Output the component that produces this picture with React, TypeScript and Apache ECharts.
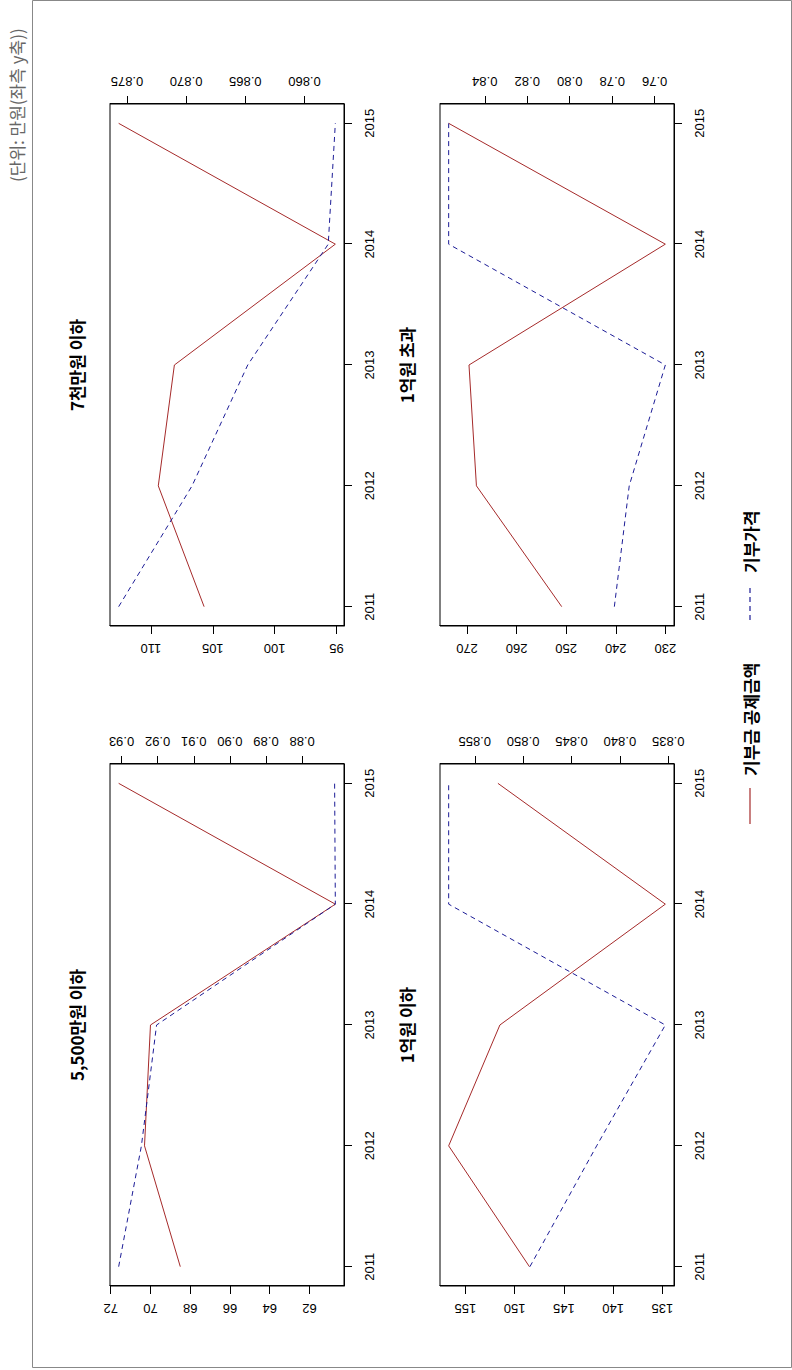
import React, { useEffect, useRef } from "react";
import * as echarts from "echarts";

// ---------- data ----------
const years = [2011, 2012, 2013, 2014, 2015];
const panelTitles = ["5,500만원 이하", "7천만원 이하", "1억원 이하", "1억원 초과"];
const seriesNames = ["기부금 공제금액", "기부가격"];
const unitNote = "(단위: 만원(좌측 y축))";

const deduction5500 = [68.5, 70.3, 70.0, 60.7, 71.6];
const price5500 = [0.9308, 0.9245, 0.9203, 0.8708, 0.871];
const deduction7000 = [105.7, 109.4, 108.1, 95.1, 112.6];
const price7000 = [0.8757, 0.8695, 0.8648, 0.858, 0.8574];
const deduction1e = [148.5, 156.7, 151.5, 134.7, 151.7];
const price1e = [0.8493, 0.8424, 0.8353, 0.8577, 0.8577];
const deductionOver = [250.9, 268.1, 269.6, 230.0, 273.7];
const priceOver = [0.779, 0.772, 0.755, 0.857, 0.857];

const leftTicks5500 = ["62", "64", "66", "68", "70", "72"];
const rightTicks5500 = ["0.88", "0.89", "0.90", "0.91", "0.92", "0.93"];
const leftTicks7000 = ["95", "100", "105", "110"];
const rightTicks7000 = ["0.860", "0.865", "0.870", "0.875"];
const leftTicks1e = ["135", "140", "145", "150", "155"];
const rightTicks1e = ["0.835", "0.840", "0.845", "0.850", "0.855"];
const leftTicksOver = ["230", "240", "250", "260", "270"];
const rightTicksOver = ["0.76", "0.78", "0.80", "0.82", "0.84"];

// ---------- layout (unrotated landscape canvas 1370 x 792) ----------
const W = 1370;
const H = 792;
const panels = [
  { title: panelTitles[0], red: deduction5500, blue: price5500, lt: leftTicks5500, rt: rightTicks5500, left: 84, top: 110 },
  { title: panelTitles[1], red: deduction7000, blue: price7000, lt: leftTicks7000, rt: rightTicks7000, left: 744, top: 110 },
  { title: panelTitles[2], red: deduction1e, blue: price1e, lt: leftTicks1e, rt: rightTicks1e, left: 84, top: 440 },
  { title: panelTitles[3], red: deductionOver, blue: priceOver, lt: leftTicksOver, rt: rightTicksOver, left: 744, top: 440 },
];
const PW = 522;
const PH = 234;
const RED = "#A52A2A";
const BLUE = "#1c1c96";
const NUM_FONT = "Liberation Sans, Arial, sans-serif";
const KR_FONT = "Noto Sans CJK KR, sans-serif";

function padRange(arr: number[]) {
  const lo = Math.min(...arr);
  const hi = Math.max(...arr);
  const d = hi - lo;
  return [lo - 0.04 * d, hi + 0.04 * d];
}
function decimalsOf(s: string) {
  const i = s.indexOf(".");
  return i < 0 ? 0 : s.length - i - 1;
}

function buildOption() {
  const grid: any[] = [];
  const xAxis: any[] = [];
  const yAxis: any[] = [];
  const series: any[] = [];
  const graphic: any[] = [];

  panels.forEach((p, i) => {
    grid.push({
      left: p.left,
      top: p.top,
      width: PW,
      height: PH,
      show: true,
      borderColor: "#000",
      borderWidth: 1,
      backgroundColor: "transparent",
    });
    xAxis.push({
      gridIndex: i,
      type: "value",
      min: 2011 - 0.16,
      max: 2015 + 0.16,
      position: "bottom",
      axisLine: { show: true, lineStyle: { color: "#000", width: 1 } },
      axisTick: { show: true, length: 8, customValues: years, lineStyle: { color: "#000" } },
      axisLabel: {
        customValues: years,
        margin: 19,
        color: "#000",
        fontSize: 13,
        fontFamily: NUM_FONT,
        formatter: (v: number) => String(Math.round(v)),
      },
      splitLine: { show: false },
    });
    const [rmin, rmax] = padRange(p.red);
    const [bmin, bmax] = padRange(p.blue);
    const ldec = decimalsOf(p.lt[0]);
    const rdec = decimalsOf(p.rt[0]);
    yAxis.push({
      gridIndex: i,
      type: "value",
      position: "left",
      min: rmin,
      max: rmax,
      axisLine: { show: true, lineStyle: { color: "#000", width: 1 } },
      axisTick: { show: true, length: 8, customValues: p.lt.map(Number), lineStyle: { color: "#000" } },
      axisLabel: {
        customValues: p.lt.map(Number),
        rotate: 90,
        margin: 16,
        color: "#000",
        fontSize: 13,
        fontFamily: NUM_FONT,
        formatter: (v: number) => v.toFixed(ldec),
      },
      splitLine: { show: false },
    });
    yAxis.push({
      gridIndex: i,
      type: "value",
      position: "right",
      min: bmin,
      max: bmax,
      axisLine: { show: true, lineStyle: { color: "#000", width: 1 } },
      axisTick: { show: true, length: 8, customValues: p.rt.map(Number), lineStyle: { color: "#000" } },
      axisLabel: {
        customValues: p.rt.map(Number),
        rotate: 90,
        margin: 16,
        color: "#000",
        fontSize: 13,
        fontFamily: NUM_FONT,
        formatter: (v: number) => v.toFixed(rdec),
      },
      splitLine: { show: false },
    });
    series.push({
      name: seriesNames[0],
      type: "line",
      xAxisIndex: i,
      yAxisIndex: 2 * i,
      data: years.map((y, k) => [y, p.red[k]]),
      showSymbol: false,
      symbol: "none",
      lineStyle: { color: RED, width: 1 },
      z: 2,
    });
    series.push({
      name: seriesNames[1],
      type: "line",
      xAxisIndex: i,
      yAxisIndex: 2 * i + 1,
      data: years.map((y, k) => [y, p.blue[k]]),
      showSymbol: false,
      symbol: "none",
      lineStyle: { color: BLUE, width: 1, type: [5, 4] },
      z: 3,
    });
    graphic.push({
      type: "text",
      x: p.left + PW / 2,
      y: p.top - 34,
      style: {
        text: p.title,
        fill: "#000",
        font: `bold 17px ${KR_FONT}`,
        textAlign: "center",
        textVerticalAlign: "middle",
      },
    });
  });

  // outer frame
  graphic.push({
    type: "rect",
    shape: { x: 2.5, y: 32.5, width: W - 3, height: H - 33 },
    style: { fill: "none", stroke: "#888", lineWidth: 1 },
    silent: true,
  });
  // unit note
  graphic.push({
    type: "text",
    x: 1188,
    y: 16,
    style: {
      text: unitNote,
      fill: "#666",
      font: `17px ${KR_FONT}`,
      textAlign: "left",
      textVerticalAlign: "middle",
    },
  });
  // legend
  const ly = 750;
  graphic.push({
    type: "line",
    shape: { x1: 546, y1: ly, x2: 582, y2: ly },
    style: { stroke: RED, lineWidth: 1.2 },
  });
  graphic.push({
    type: "text",
    x: 594,
    y: ly,
    style: { text: seriesNames[0], fill: "#000", font: `bold 17px ${KR_FONT}`, textVerticalAlign: "middle" },
  });
  graphic.push({
    type: "line",
    shape: { x1: 750, y1: ly, x2: 784, y2: ly },
    style: { stroke: BLUE, lineWidth: 1.2, lineDash: [5, 4] },
  });
  graphic.push({
    type: "text",
    x: 797,
    y: ly,
    style: { text: seriesNames[1], fill: "#000", font: `bold 17px ${KR_FONT}`, textVerticalAlign: "middle" },
  });

  return {
    animation: false,
    backgroundColor: "#fff",
    grid,
    xAxis,
    yAxis,
    series,
    graphic,
  };
}

export default function App() {
  const ref = useRef<HTMLDivElement>(null);
  useEffect(() => {
    const chart = echarts.init(ref.current!, null, { renderer: "svg", width: W, height: H });
    chart.setOption(buildOption() as any);
    return () => chart.dispose();
  }, []);
  return (
    <div
      style={{
        position: "absolute",
        left: 0,
        top: 0,
        width: H,
        height: W,
        overflow: "hidden",
        background: "#fff",
      }}
    >
      <div
        ref={ref}
        style={{
          position: "absolute",
          left: 0,
          top: 0,
          width: W,
          height: H,
          transformOrigin: "0 0",
          transform: `translate(0px, ${W}px) rotate(-90deg)`,
        }}
      />
    </div>
  );
}
